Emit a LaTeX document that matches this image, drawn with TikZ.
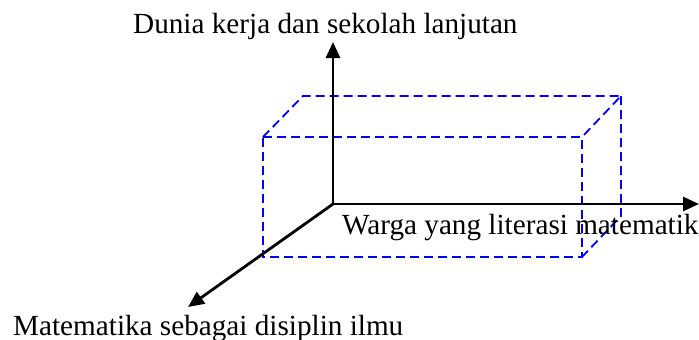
\documentclass[tikz,border=0pt]{standalone}
\usepackage{fontspec}
\setmainfont{Liberation Serif}
\usetikzlibrary{arrows.meta}
\begin{document}
\begin{tikzpicture}[x=1pt,y=-1pt,
  axis/.style={line width=2.8pt,-{Triangle[length=16pt,width=14pt]}},
  boxedge/.style={blue,line width=1.8pt,dash pattern=on 9pt off 5pt},
  lbl/.style={inner sep=0pt,anchor=base west,font=\fontsize{29.2}{31}\selectfont}]
\useasboundingbox[fill=white] (0,0) rectangle (699,340);
% axes
\coordinate (O) at (333,204);
\coordinate (up) at (333,42);
\coordinate (right) at (699,204);
\coordinate (down) at (188,307);
% box
\coordinate (f1) at (263,137);
\coordinate (f2) at (582,137);
\coordinate (f3) at (582,257);
\coordinate (f4) at (263,257);
\coordinate (b1) at (303,96);
\coordinate (b2) at (621,96);
\coordinate (b3) at (621,216);
\draw[boxedge] (f1) -- (f2) -- (f3) -- (f4) -- cycle;
\draw[boxedge] (f1) -- (b1) -- (b2) -- (f2);
\draw[boxedge] (b2) -- (b3) -- (f3);
\draw[axis] (O) -- (up);
\draw[axis] (O) -- (right);
\draw[axis] (O) -- (down);
\node[lbl] (t1) at (133,34) {Dunia kerja dan sekolah lanjutan};
\node[lbl] (t2) at (342,234) {Warga yang literasi matematik};
\node[lbl] (t3) at (13,335) {Matematika sebagai disiplin ilmu};
\end{tikzpicture}
\end{document}
